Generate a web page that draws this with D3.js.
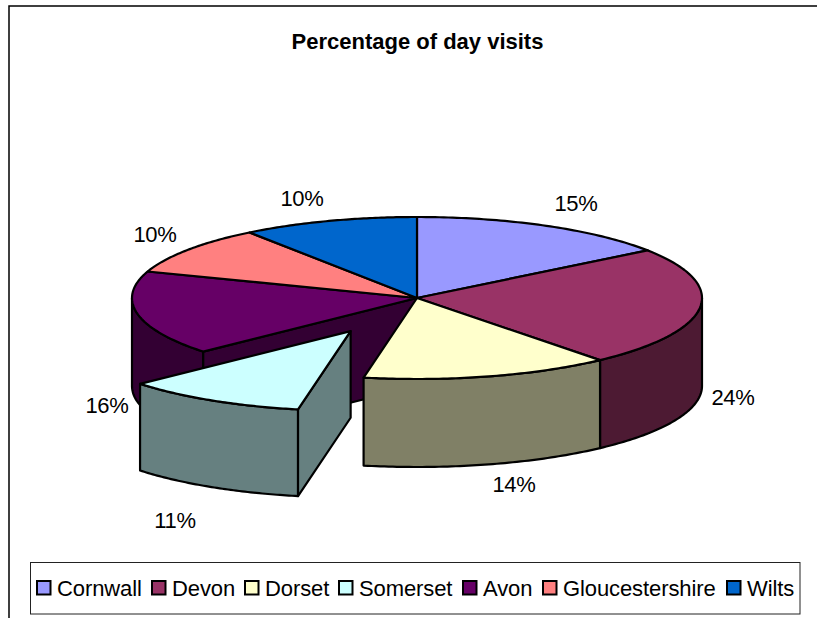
<!DOCTYPE html>
<html>
<head>
<meta charset="utf-8">
<script src="https://cdnjs.cloudflare.com/ajax/libs/d3/7.8.5/d3.min.js"></script>
<style>
  html, body { margin: 0; padding: 0; background: #fff; }
  text { font-family: "Liberation Sans", Arial, sans-serif; fill: #000; }
</style>
</head>
<body>
<div id="chart"></div>
<script>
const categories = ["Cornwall", "Devon", "Dorset", "Somerset", "Avon", "Gloucestershire", "Wilts"];
const shares = [15, 23.9, 14.1, 10.5, 16.8, 9.7, 10];
const shareLabels = ["15%", "24%", "14%", "11%", "16%", "10%", "10%"];
const topColors = ["#9999ff", "#993366", "#ffffcc", "#ccffff", "#660066", "#ff8080", "#0066cc"];
const sideColors = ["#4d4d80", "#4d1a33", "#808066", "#668080", "#330033", "#804040", "#003366"];
const labelSpots = [[576, 211], [733, 405], [514, 492], [175, 528], [107, 413], [155, 242], [302, 206]];
const legendSteps = [115, 93, 94, 124, 80, 184, 0];

const width = 817, height = 618;
const cx = 417, cy = 298, rx = 285, ry = 81, depth = 88;
const explode = 0.47, explodedRadius = 0.985;

const svg = d3.select("#chart").append("svg")
    .attr("width", width)
    .attr("height", height)
    .style("display", "block");

// flat ellipse projection, unit circle -> screen
const px = d3.scaleLinear().domain([-1, 1]).range([cx - rx, cx + rx]);
const py = d3.scaleLinear().domain([-1, 1]).range([cy - ry, cy + ry]);

const slices = d3.pie().sort(null).value(d => d)(shares);
slices.forEach((s, i) => {
    s.name = categories[i];
    s.mid = (s.startAngle + s.endAngle) / 2;
    s.off = s.name === "Somerset" ? explode : 0;
    s.r = s.name === "Somerset" ? explodedRadius : 1;
    s.ox = s.off * Math.sin(s.mid);
    s.oy = -s.off * Math.cos(s.mid);
});
const byName = n => slices.find(s => s.name === n);

const line = d3.line();

function rimPoints(s, a0, a1, drop) {
    return d3.range(0, 61).map(k => {
        const t = a0 + (a1 - a0) * k / 60;
        return [px(s.r * Math.sin(t) + s.ox), py(-s.r * Math.cos(t) + s.oy) + drop * s.r];
    });
}

function topPath(s) {
    const c = [px(s.ox), py(s.oy)];
    return line([c].concat(rimPoints(s, s.startAngle, s.endAngle, 0))) + "Z";
}

function wallPath(s, a0, a1) {
    return line(rimPoints(s, a0, a1, 0).concat(rimPoints(s, a1, a0, depth))) + "Z";
}

// wall on the radial cut at angle a
function cutPath(s, a) {
    const c = [px(s.ox), py(s.oy)];
    const e = [px(s.r * Math.sin(a) + s.ox), py(-s.r * Math.cos(a) + s.oy)];
    const h = depth * s.r;
    return line([c, e, [e[0], e[1] + h], [c[0], c[1] + h]]) + "Z";
}

function face(d, fill) {
    svg.append("path")
        .attr("d", d)
        .attr("fill", fill)
        .attr("stroke", "#000")
        .attr("stroke-width", 2.2)
        .attr("stroke-linejoin", "round");
}

// chart frame, open on the right and at the bottom
svg.append("path")
    .attr("d", `M9,${height}V6H${width}`)
    .attr("fill", "none")
    .attr("stroke", "#000")
    .attr("stroke-width", 1.5);

svg.append("text")
    .attr("x", 417.5)
    .attr("y", 49)
    .attr("text-anchor", "middle")
    .attr("font-size", 22)
    .attr("font-weight", "bold")
    .text("Percentage of day visits");

// painter's order, back to front
const avon = byName("Avon"), devon = byName("Devon"), dorset = byName("Dorset"), somerset = byName("Somerset");

face(wallPath(avon, avon.startAngle, 1.5 * Math.PI), sideColors[4]);
face(cutPath(avon, avon.startAngle), sideColors[4]);
face(wallPath(devon, Math.PI / 2, devon.endAngle), sideColors[1]);
face(wallPath(dorset, dorset.startAngle, dorset.endAngle), sideColors[2]);

slices.filter(s => s !== somerset).forEach(s => face(topPath(s), topColors[s.index]));

face(wallPath(somerset, somerset.startAngle, somerset.endAngle), sideColors[3]);
face(cutPath(somerset, somerset.startAngle), sideColors[3]);
face(topPath(somerset), topColors[3]);

// data labels
svg.selectAll(".share")
    .data(shareLabels)
    .enter().append("text")
    .attr("class", "share")
    .attr("x", (d, i) => labelSpots[i][0])
    .attr("y", (d, i) => labelSpots[i][1])
    .attr("text-anchor", "middle")
    .attr("font-size", 22)
    .attr("letter-spacing", -0.3)
    .text(d => d);

// legend
svg.append("rect")
    .attr("x", 30.5)
    .attr("y", 562.5)
    .attr("width", 769.5)
    .attr("height", 51.5)
    .attr("fill", "#fff")
    .attr("stroke", "#222");

let lx = 36;
categories.forEach((name, i) => {
    svg.append("rect")
        .attr("x", lx + 1)
        .attr("y", 581)
        .attr("width", 13.5)
        .attr("height", 13.5)
        .attr("fill", topColors[i])
        .attr("stroke", "#000")
        .attr("stroke-width", 2);
    svg.append("text")
        .attr("x", lx + 21)
        .attr("y", 596)
        .attr("font-size", 22)
        .attr("letter-spacing", -0.1)
        .text(name);
    lx += legendSteps[i];
});
</script>
</body>
</html>
